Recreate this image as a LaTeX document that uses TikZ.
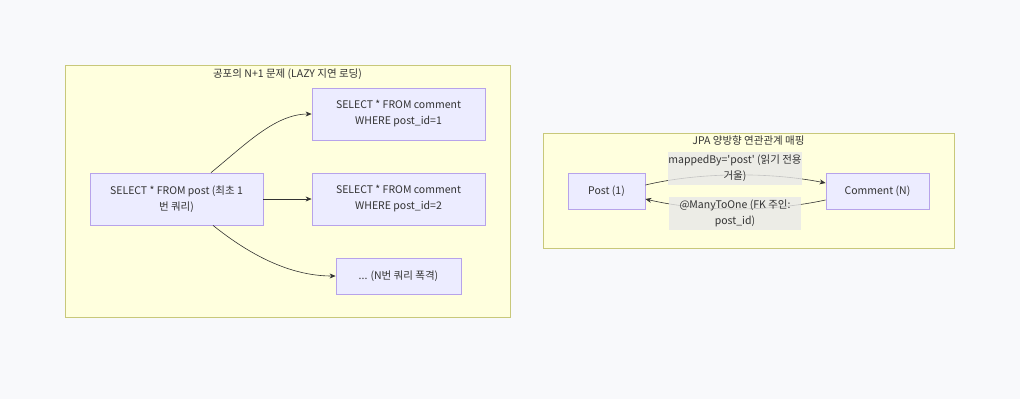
\documentclass[tikz,border=0pt]{standalone}
\usepackage{fontspec}
\setmainfont{Noto Sans CJK KR}
\usetikzlibrary{positioning,arrows.meta}
\definecolor{bgcol}{HTML}{F8F9FB}
\definecolor{grpfill}{HTML}{FFFFDE}
\definecolor{grpline}{HTML}{C8C87A}
\definecolor{nodefill}{HTML}{ECECFF}
\definecolor{nodeline}{HTML}{B7A3EA}
\definecolor{lblfill}{HTML}{E8E8E8}
\definecolor{inkcol}{HTML}{333333}

\begin{document}
\begin{tikzpicture}[x=1pt,y=-1pt,>={Stealth[length=6pt,width=5pt]},node distance=85pt,on grid,
  txt/.style={text=inkcol,font=\fontsize{10.5}{16}\selectfont},
  box/.style={txt,draw=nodeline,fill=nodefill,line width=0.8pt,align=center,inner sep=0pt},
  grp/.style={draw=grpline,fill=grpfill,line width=0.8pt},
  lbl/.style={txt,fill=lblfill,fill opacity=0.8,text opacity=1,align=center,inner sep=0pt,minimum width=132pt,minimum height=33pt},
  flow/.style={->,draw=inkcol,line width=0.6pt}]
\useasboundingbox[fill=bgcol] (0,0) rectangle (1020,399);
% groups
\draw[grp] (65,65) rectangle (510,317);
\node[txt] (t1) at (287.5,74) {공포의 N+1 문제 (LAZY 지연 로딩)};
\draw[grp] (543,133) rectangle (954,248);
\node[txt] (t2) at (748.5,141) {JPA 양방향 연관관계 매핑};
% N+1 queries
\node[box,minimum width=173pt,minimum height=52pt] (sel) at (176.5,199) {SELECT * FROM post (최초 1\\번 쿼리)};
\node[box,minimum width=173pt,minimum height=52pt] (q2) [right=222pt of sel] {SELECT * FROM comment\\WHERE post\_id=2};
\node[box,minimum width=173pt,minimum height=52pt] (q1) [above=of q2] {SELECT * FROM comment\\WHERE post\_id=1};
\node[box,minimum width=125pt,minimum height=36pt] (qn) [below=77pt of q2] {... (N번 쿼리 폭격)};
\draw[flow] ([xshift=34.5pt]sel.north) .. controls (245,145) and (275,114) .. (q1.west);
\draw[flow] (sel.east) -- (q2.west);
\draw[flow] ([xshift=36.5pt]sel.south) .. controls (250,255) and (290,276) .. (qn.west);
% mapping
\node[box,minimum width=77pt,minimum height=36pt] (post) at (606.5,191) {Post (1)};
\node[box,minimum width=103pt,minimum height=36pt] (cmt) at (877.5,191) {Comment (N)};
\draw[flow] ([yshift=6pt]post.east) .. controls (700,172) and (770,172) .. ([yshift=8pt]cmt.west);
\draw[flow] ([yshift=-9pt]cmt.west) .. controls (770,212) and (700,212) .. ([yshift=-8pt]post.east);
\node[lbl] (l1) at (735,168.5) {mappedBy=\textquotesingle post\textquotesingle\ (읽기 전용\\거울)};
\node[lbl] (l2) at (735,213.5) {@ManyToOne (FK 주인:\\post\_id)};
\end{tikzpicture}
\end{document}
